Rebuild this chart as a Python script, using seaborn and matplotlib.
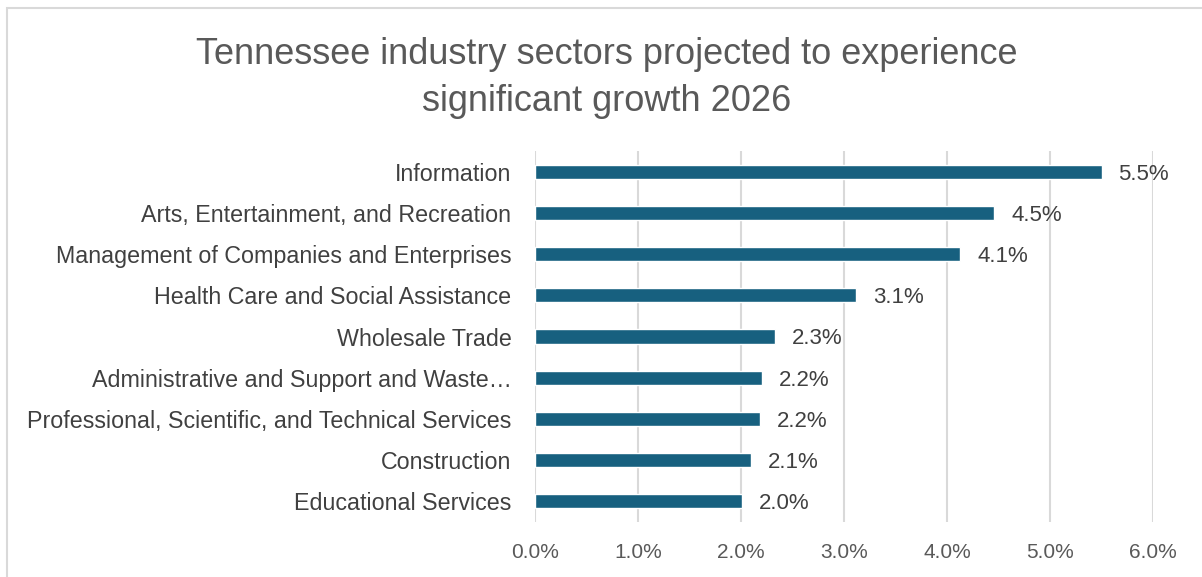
import matplotlib
matplotlib.use("Agg")
import matplotlib.pyplot as plt
from matplotlib.patches import Rectangle
from matplotlib.ticker import FuncFormatter
import seaborn as sns
import pandas as pd

sectors = [
    "Information",
    "Arts, Entertainment, and Recreation",
    "Management of Companies and Enterprises",
    "Health Care and Social Assistance",
    "Wholesale Trade",
    "Administrative and Support and Waste…",
    "Professional, Scientific, and Technical Services",
    "Construction",
    "Educational Services",
]
growth = [5.5, 4.46, 4.13, 3.12, 2.33, 2.2, 2.18, 2.1, 2.01]
x_ticks = [0, 1, 2, 3, 4, 5, 6]

df = pd.DataFrame({"sector": sectors, "growth": growth})

sns.set_theme(style="white")
plt.rcParams["font.family"] = ["Liberation Sans", "DejaVu Sans"]

fig = plt.figure(figsize=(12.02, 5.77), dpi=100)
ax = fig.add_axes([535 / 1202, 1 - 522 / 577, (1153 - 535) / 1202, (522 - 151) / 577])

sns.barplot(data=df, x="growth", y="sector", color="#17607F", saturation=1,
            width=0.34, ax=ax, zorder=3)

ax.set_xlim(0, 6)
ax.set_xticks(x_ticks)
ax.xaxis.set_major_formatter(FuncFormatter(lambda v, _: f"{v:.1f}%"))
ax.grid(axis="x", color="#D9D9D9", linewidth=1.5, zorder=0)
ax.set_xlabel("")
ax.set_ylabel("")
for s in ax.spines.values():
    s.set_visible(False)
ax.tick_params(axis="both", length=0)
ax.tick_params(axis="x", labelsize=15, labelcolor="#595959", pad=15)
ax.tick_params(axis="y", labelsize=16.75, labelcolor="#404040", pad=17)

for i, v in enumerate(growth):
    ax.text(v + 0.165, i + 0.06, f"{v:.1f}%", va="center", ha="left",
            fontsize=16, color="#404040")

fig.text(0.505, 0.865, "Tennessee industry sectors projected to experience\nsignificant growth 2026",
         ha="center", va="center", fontsize=26, color="#595959", linespacing=1.42)

fig.patches.append(Rectangle((7 / 1202, -0.01), 1.02, 1 - 8 / 577 + 0.01,
                             transform=fig.transFigure, fill=False,
                             edgecolor="#D9D9D9", linewidth=1.5))

fig.savefig("out.png", dpi=100, facecolor="white")
